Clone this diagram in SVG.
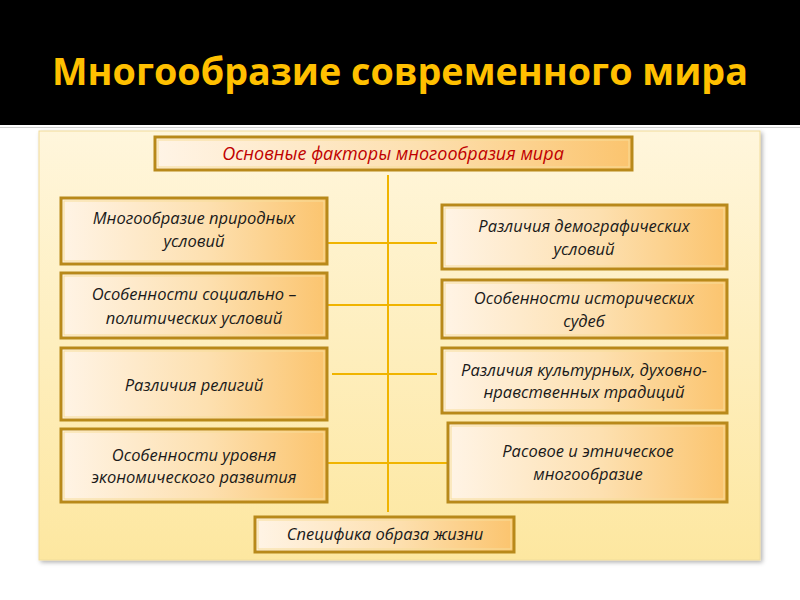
<svg xmlns="http://www.w3.org/2000/svg" width="800" height="600" viewBox="0 0 800 600">
<defs>
<linearGradient id="panel" x1="0" y1="0" x2="0" y2="1">
<stop offset="0" stop-color="#fff6dc"/>
<stop offset="1" stop-color="#fde7a0"/>
</linearGradient>
<linearGradient id="box" x1="0" y1="0" x2="1" y2="0">
<stop offset="0" stop-color="#fff4e6"/>
<stop offset="0.55" stop-color="#fde0b0"/>
<stop offset="1" stop-color="#fbc46e"/>
</linearGradient>
<filter id="sh" x="-5%" y="-5%" width="110%" height="110%">
<feDropShadow dx="2" dy="2" stdDeviation="2" flood-color="#000" flood-opacity="0.3"/>
</filter>
</defs>
<style>
.bx{fill:url(#box);stroke:#b8891a;stroke-width:3}
.in{fill:none;stroke:#f7dd9a;stroke-width:1}
.t{font-family:"Open Sans","Noto Sans",sans-serif;font-style:italic;font-size:16.5px;fill:#1a1a1a;text-anchor:middle}
.ln{stroke:#f0b400;stroke-width:2;fill:none}
</style>
<rect x="0" y="0" width="800" height="600" fill="#ffffff"/>
<rect x="0" y="0" width="800" height="125" fill="#000000"/>
<line x1="0" y1="127.5" x2="800" y2="127.5" stroke="#d0d0d0" stroke-width="1"/>
<text x="400" y="85" font-family="'Open Sans','Noto Sans',sans-serif" font-weight="bold" font-size="37" fill="#ffc000" text-anchor="middle" textLength="696" lengthAdjust="spacingAndGlyphs">Многообразие современного мира</text>
<rect x="39" y="131" width="721" height="429" fill="url(#panel)" stroke="#f1dc9a" stroke-width="1" filter="url(#sh)"/>
<g id="connectors">
<line class="ln" x1="388" y1="175" x2="388" y2="512"/>
<line class="ln" x1="327" y1="243" x2="437" y2="243"/>
<line class="ln" x1="327" y1="305" x2="443" y2="305"/>
<line class="ln" x1="332" y1="374" x2="437" y2="374"/>
<line class="ln" x1="327" y1="463" x2="449" y2="463"/>
</g>
<g id="top">
<rect class="bx" x="155" y="137" width="477" height="33"/>
<rect class="in" x="158" y="140" width="471" height="27"/>
<text x="393" y="160" font-family="'Open Sans','Noto Sans',sans-serif" font-style="italic" font-size="18" fill="#c00000" text-anchor="middle">Основные факторы многообразия мира</text>
</g>
<g id="l1">
<rect class="bx" x="61" y="198" width="266" height="66"/>
<rect class="in" x="64" y="201" width="260" height="60"/>
<text class="t" x="194" y="224">Многообразие природных</text>
<text class="t" x="194" y="247">условий</text>
</g>
<g id="l2">
<rect class="bx" x="61" y="273" width="266" height="65"/>
<rect class="in" x="64" y="276" width="260" height="59"/>
<text class="t" x="194" y="300">Особенности социально –</text>
<text class="t" x="194" y="324">политических условий</text>
</g>
<g id="l3">
<rect class="bx" x="61" y="348" width="266" height="72"/>
<rect class="in" x="64" y="351" width="260" height="66"/>
<text class="t" x="194" y="391">Различия религий</text>
</g>
<g id="l4">
<rect class="bx" x="61" y="429" width="266" height="73"/>
<rect class="in" x="64" y="432" width="260" height="67"/>
<text class="t" x="194" y="461">Особенности уровня</text>
<text class="t" x="194" y="483">экономического развития</text>
</g>
<g id="r1">
<rect class="bx" x="442" y="205" width="285" height="64"/>
<rect class="in" x="445" y="208" width="279" height="58"/>
<text class="t" x="584" y="232">Различия демографических</text>
<text class="t" x="584" y="255">условий</text>
</g>
<g id="r2">
<rect class="bx" x="442" y="280" width="285" height="58"/>
<rect class="in" x="445" y="283" width="279" height="52"/>
<text class="t" x="584" y="304">Особенности исторических</text>
<text class="t" x="584" y="327">судеб</text>
</g>
<g id="r3">
<rect class="bx" x="442" y="348" width="285" height="65"/>
<rect class="in" x="445" y="351" width="279" height="59"/>
<text class="t" x="584" y="376">Различия культурных, духовно-</text>
<text class="t" x="584" y="398">нравственных традиций</text>
</g>
<g id="r4">
<rect class="bx" x="448" y="423" width="279" height="79"/>
<rect class="in" x="451" y="426" width="273" height="73"/>
<text class="t" x="588" y="457">Расовое и этническое</text>
<text class="t" x="588" y="480">многообразие</text>
</g>
<g id="bottom">
<rect class="bx" x="255" y="517" width="259" height="35"/>
<rect class="in" x="258" y="520" width="253" height="29"/>
<text class="t" x="385" y="540">Специфика образа жизни</text>
</g>
</svg>
